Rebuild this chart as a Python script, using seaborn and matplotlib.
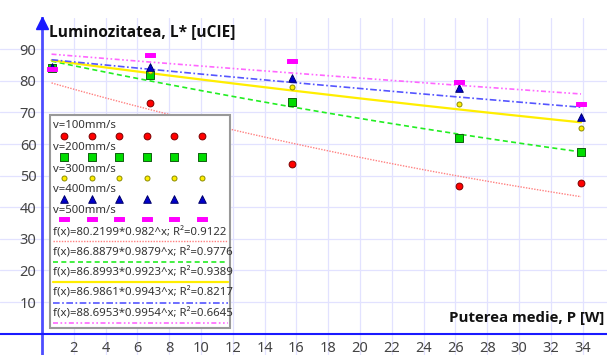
import numpy as np
import pandas as pd
import matplotlib
matplotlib.use("Agg")
import matplotlib.pyplot as plt
from matplotlib.patches import Rectangle
import seaborn as sns

# ---- data ----
power = [0.6, 6.8, 15.7, 26.2, 33.9]
v100 = [84.0, 72.9, 53.6, 46.8, 47.6]
v200 = [84.0, 81.9, 73.2, 62.0, 57.5]
v300 = [84.0, 83.2, 78.1, 72.6, 65.0]
v400 = [84.5, 84.4, 80.8, 77.8, 68.5]
v500 = [83.8, 88.2, 86.3, 79.7, 72.8]
series_names = ["v=100mm/s", "v=200mm/s", "v=300mm/s", "v=400mm/s", "v=500mm/s"]
fit_a = [80.2199, 86.8879, 86.8993, 86.9861, 88.6953]
fit_b = [0.982, 0.9879, 0.9923, 0.9943, 0.9954]
fit_r2 = ["0.9122", "0.9776", "0.9389", "0.8217", "0.6645"]
x_ticks = list(range(2, 35, 2))
y_ticks = list(range(10, 91, 10))

sns.set_theme(style="white")
plt.rcParams["font.family"] = ["Noto Sans", "DejaVu Sans"]

W, H = 607, 355
fig = plt.figure(figsize=(W / 100, H / 100), dpi=100)
top_px = 18
ax = fig.add_axes([0, 0, 1, (H - top_px) / H])

x0_px, ppx = 42.0, 15.9
y0_px, ppy = 333.6, 3.159
ax.set_xlim(-x0_px / ppx, (W - x0_px) / ppx)
ax.set_ylim(-(H - y0_px) / ppy, (y0_px - top_px) / ppy)

def fx(px):
    return px / W
def fy(py):
    return 1 - py / H
FT = fig.transFigure

mk_bar = np.array([[-1, -0.33], [1, -0.33], [1, 0.33], [-1, 0.33], [-1, -0.33]])
styles = [
    dict(marker="o", color="#ff0000", edgecolor="#7a0000", s=24),
    dict(marker="s", color="#00dd00", edgecolor="#106010", s=26),
    dict(marker="o", color="#ffee00", edgecolor="#8a8a00", s=13),
    dict(marker="^", color="#0000cc", edgecolor="#00006a", s=30),
    dict(marker=mk_bar, color="#ff00ff", edgecolor="#ff00ff", s=44),
]
line_styles = [
    dict(color="#ff8080", ls=(0, (1, 1)), lw=1.0),
    dict(color="#22ee22", ls=(0, (3, 2)), lw=1.2),
    dict(color="#ffee00", ls="-", lw=1.6),
    dict(color="#5555ff", ls=(0, (4, 1.5, 1, 1.5)), lw=1.2),
    dict(color="#ff66ff", ls=(0, (3, 1.5, 1, 1.5, 1, 1.5)), lw=1.2),
]

# grid
grid_c = "#e2e2ff"
for xt in x_ticks:
    ax.axvline(xt, color=grid_c, lw=0.9, zorder=0)
for yt in y_ticks:
    ax.axhline(yt, color=grid_c, lw=0.9, zorder=0)

# trend lines
all_y = [v100, v200, v300, v400, v500]
xs = np.linspace(min(power), max(power), 200)
for a, b, ls in zip(fit_a, fit_b, line_styles):
    d = pd.DataFrame({"x": xs, "y": a * b ** xs})
    sns.lineplot(data=d, x="x", y="y", ax=ax, color=ls["color"], lw=ls["lw"],
                 linestyle=ls["ls"], zorder=2, legend=False)

# points
for ys, st in zip(all_y, styles):
    d = pd.DataFrame({"x": power, "y": ys})
    sns.scatterplot(data=d, x="x", y="y", ax=ax, marker=st["marker"], color=st["color"],
                    edgecolor=st["edgecolor"], linewidth=0.7, s=st["s"], zorder=3, legend=False)

ax.set_xlabel("")
ax.set_ylabel("")

# axes lines
for sp in ["top", "right"]:
    ax.spines[sp].set_visible(False)
ax.spines["left"].set_position(("data", 0))
ax.spines["bottom"].set_position(("data", 0))
ax.spines["left"].set_color("#4d4dff")
ax.spines["left"].set_linewidth(2)
ax.spines["bottom"].set_color("#1a1aff")
ax.spines["bottom"].set_linewidth(1.5)
ax.plot([0], [98.2], marker="^", color="#1a1aff", ms=8, clip_on=False, zorder=5)

ax.set_xticks(x_ticks)
ax.set_yticks(y_ticks)
ax.tick_params(axis="both", direction="inout", length=6, width=1, colors="#4d4dff",
               labelcolor="#444444", labelsize=10.5)
ax.tick_params(axis="x", pad=2)
ax.tick_params(axis="y", pad=1)

# axis titles
title_font = ["Open Sans", "DejaVu Sans"]
fig.text(fx(49), fy(32), "Luminozitatea, L* [uCIE]", fontsize=11.2, fontweight="bold",
         family=title_font, color="#111111", va="center", ha="left")
fig.text(fx(604), fy(318), "Puterea medie, P [W]", fontsize=10.8, fontweight="bold",
         family=title_font, color="#111111", va="center", ha="right")

# legend (LibreOffice style), drawn in figure coordinates
ax.add_patch(Rectangle((fx(50), fy(328)), fx(230) - fx(50), fy(115) - fy(328),
                       transform=FT, facecolor="white", edgecolor="#999999", lw=1.5,
                       zorder=10, clip_on=False))
text_y = [126, 147.7, 169.3, 190, 210.7]
mark_y = [135.7, 156.7, 178, 199.3, 219.3]
mark_x = [64, 91.7, 119, 146.7, 174, 201.7]
for name, ty, my, st in zip(series_names, text_y, mark_y, styles):
    ax.text(fx(53), fy(ty), name, transform=FT, fontsize=8.2, color="#333333",
            va="center", ha="left", zorder=11)
    ax.scatter([fx(m) for m in mark_x], [fy(my)] * 6, transform=FT,
               marker=st["marker"], c=st["color"], edgecolors=st["edgecolor"],
               linewidths=0.7, s=st["s"], zorder=12, clip_on=False)
fit_text_y = [232.7, 253.3, 273.3, 293.3, 314.3]
fit_line_y = [240.7, 261.7, 282.3, 302.7, 323.3]
for a, b, r2, ty, ly, ls in zip(fit_a, fit_b, fit_r2, fit_text_y, fit_line_y, line_styles):
    ax.text(fx(53), fy(ty), f"f(x)={a:g}*{b:g}^x; R²={r2}", transform=FT, fontsize=8.2,
            color="#333333", va="center", ha="left", zorder=11)
    ax.plot([fx(52.7), fx(227.7)], [fy(ly), fy(ly)], transform=FT, color=ls["color"],
            ls=ls["ls"], lw=ls["lw"], zorder=12, clip_on=False)

fig.savefig("out.png", dpi=100)
